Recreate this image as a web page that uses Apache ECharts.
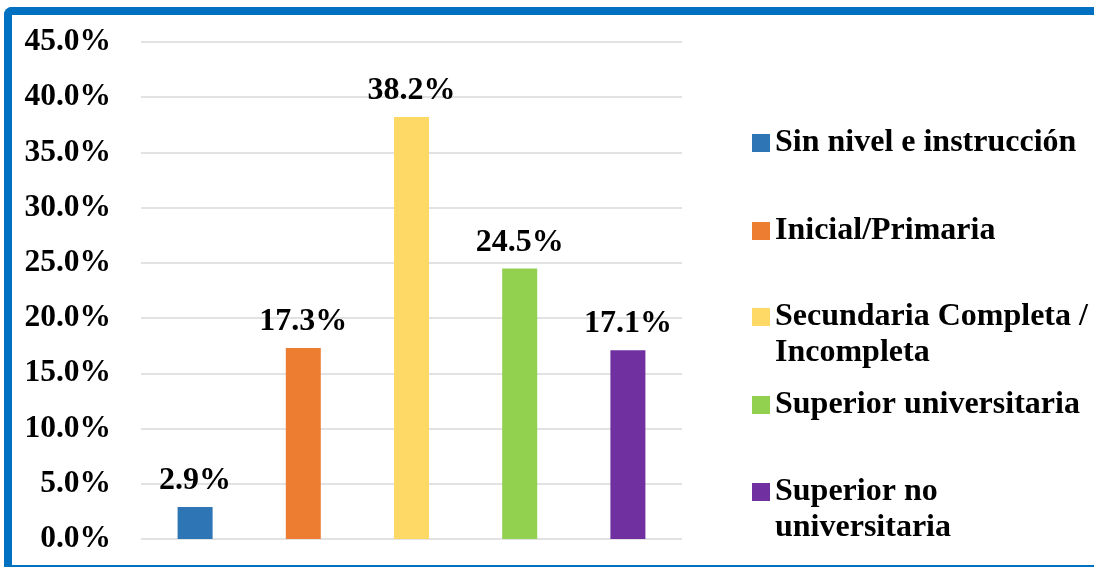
<!DOCTYPE html>
<html>
<head>
<meta charset="utf-8">
<script src="https://cdn.jsdelivr.net/npm/echarts@6/dist/echarts.min.js"></script>
<style>
  html, body { margin: 0; padding: 0; background: #fff; overflow: hidden; }
  #wrap { position: relative; width: 1094px; height: 567px; overflow: hidden; }
  #chart { width: 1094px; height: 567px; }
  /* blue frame on the top, left and bottom edges only */
  #frame {
    position: absolute; left: 4px; top: 7px; width: 2000px; height: 550px;
    border-top: 8px solid #0070C0; border-left: 8px solid #0070C0;
    border-bottom: 8px solid #0070C0; border-right: none;
    border-radius: 8px 0 0 8px; pointer-events: none;
  }
</style>
</head>
<body>
<div id="wrap">
  <div id="chart"></div>
  <div id="frame"></div>
</div>
<script>
// Education level distribution (percent of respondents)
const categories = [
  'Sin nivel e instrucción',
  'Inicial/Primaria',
  'Secundaria Completa / Incompleta',
  'Superior universitaria',
  'Superior no universitaria'
];
const values = [2.9, 17.3, 38.2, 24.5, 17.1];
const colors = ['#2E75B6', '#ED7D31', '#FFD966', '#92D050', '#7030A0'];
// Legend text as it wraps on screen
const legendLines = [
  ['Sin nivel e instrucción'],
  ['Inicial/Primaria'],
  ['Secundaria Completa /', 'Incompleta'],
  ['Superior universitaria'],
  ['Superior no', 'universitaria']
];
const legendCenters = [143, 231, 317, 405, 492];
const yTicks = { min: 0, max: 45, interval: 5 };

const FONT = '"Liberation Serif", "Times New Roman", serif';
const LINE_H = 36;

// One bar series per category so every bar gets its own legend entry
const series = categories.map((name, i) => ({
  name: name,
  type: 'bar',
  stack: 'all',
  barWidth: 35,
  itemStyle: { color: colors[i] },
  label: {
    show: true,
    position: 'top',
    distance: 10,
    formatter: p => p.value.toFixed(1) + '%',
    color: '#000',
    fontFamily: FONT,
    fontWeight: 'bold',
    fontSize: 32
  },
  data: categories.map((c, j) => (j === i ? values[i] : '-'))
}));

// A separate legend block per entry; two-line entries keep the marker on the first line
const legends = categories.map((name, i) => {
  const lines = legendLines[i];
  const text = lines.length > 1 ? '\n' + lines.join('\n') : lines[0];
  const blockH = (lines.length > 1 ? 3 : 1) * LINE_H;
  return {
    data: [name],
    orient: 'vertical',
    left: 752,
    top: legendCenters[i] - blockH / 2,
    padding: 0,
    itemWidth: 18,
    itemHeight: 18,
    icon: 'rect',
    selectedMode: false,
    formatter: () => text,
    textStyle: {
      color: '#000',
      fontFamily: FONT,
      fontWeight: 'bold',
      fontSize: 32,
      lineHeight: LINE_H
    }
  };
});

const chart = echarts.init(document.getElementById('chart'), null, { renderer: 'canvas' });
chart.setOption({
  animation: false,
  backgroundColor: '#fff',
  grid: { left: 141, right: 412, top: 42, bottom: 28, containLabel: false },
  xAxis: {
    type: 'category',
    data: categories,
    axisLine: { show: false },
    axisTick: { show: false },
    axisLabel: { show: false }
  },
  yAxis: {
    type: 'value',
    min: yTicks.min,
    max: yTicks.max,
    interval: yTicks.interval,
    axisLine: { show: false },
    axisTick: { show: false },
    splitLine: { lineStyle: { color: '#D9D9D9', width: 1.5 } },
    axisLabel: {
      margin: 30,
      formatter: v => v.toFixed(1) + '%',
      color: '#000',
      fontFamily: FONT,
      fontWeight: 'bold',
      fontSize: 31.5
    }
  },
  legend: legends,
  series: series
});
</script>
</body>
</html>
